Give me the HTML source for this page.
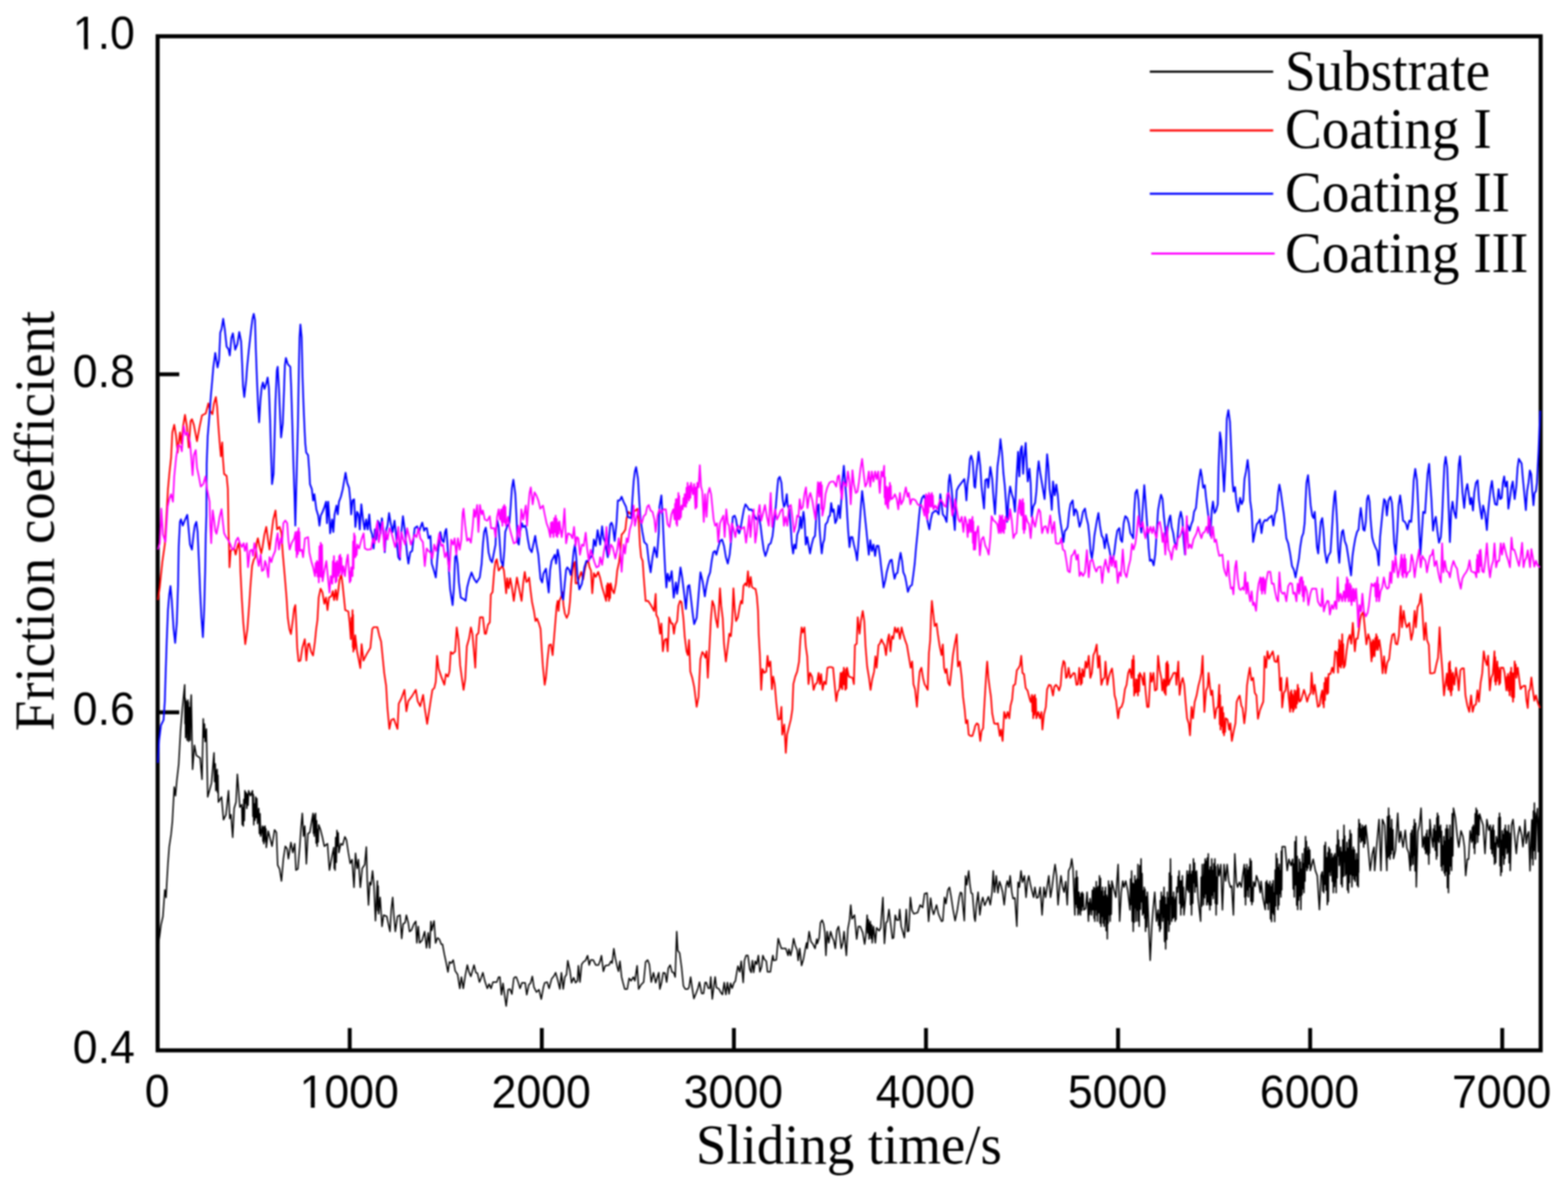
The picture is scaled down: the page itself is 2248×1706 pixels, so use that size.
<!DOCTYPE html>
<html lang="en"><head><meta charset="utf-8"><title>Friction coefficient vs sliding time</title>
<style>
html,body{margin:0;padding:0;background:#fff;}
body{width:2248px;height:1706px;overflow:hidden;}
svg{display:block;}
.tick{font-family:"Liberation Sans",Arial,sans-serif;font-size:64px;fill:#000;}
.ttl{font-family:"Liberation Serif","Times New Roman",serif;font-size:79px;fill:#000;}
.leg{font-family:"Liberation Serif","Times New Roman",serif;font-size:79px;fill:#000;}
.c{fill:none;stroke-linejoin:round;stroke-linecap:butt;}
</style></head><body>
<svg xmlns="http://www.w3.org/2000/svg" width="2248" height="1706" viewBox="0 0 2248 1706">
<rect width="2248" height="1706" fill="#fff"/>
<defs><filter id="soft" x="0" y="0" width="2248" height="1706" filterUnits="userSpaceOnUse" color-interpolation-filters="sRGB"><feGaussianBlur stdDeviation="0.80"/></filter></defs>
<g filter="url(#soft)">
<rect x="226.00" y="52.00" width="1982.80" height="1453.80" fill="none" stroke="#000" stroke-width="5.80"/>
<g stroke="#000" stroke-width="5.60"><line x1="501.39" y1="1505.80" x2="501.39" y2="1473.80"/><line x1="776.78" y1="1505.80" x2="776.78" y2="1473.80"/><line x1="1052.17" y1="1505.80" x2="1052.17" y2="1473.80"/><line x1="1327.56" y1="1505.80" x2="1327.56" y2="1473.80"/><line x1="1602.94" y1="1505.80" x2="1602.94" y2="1473.80"/><line x1="1878.33" y1="1505.80" x2="1878.33" y2="1473.80"/><line x1="2153.72" y1="1505.80" x2="2153.72" y2="1473.80"/><line x1="226.00" y1="1021.20" x2="257.00" y2="1021.20"/><line x1="226.00" y1="536.60" x2="257.00" y2="536.60"/></g>
<polyline class="c" stroke="#000000" stroke-width="2.00" points="226.3,1358.9 229.0,1340.8 230.8,1326.4 233.6,1313.7 236.3,1275.7 238.1,1286.6 239.0,1268.5 240.8,1237.8 242.6,1214.2 245.3,1196.2 247.1,1178.1 249.8,1128.2 251.6,1140.8 253.5,1119.1 256.2,1095.6 258.9,1046.8 261.6,1014.2 264.8,981.7 265.3,1037.4 265.7,1001.6 266.1,1057.6 266.5,1010.9 266.8,1051.7 267.2,1005.2 267.6,1051.4 267.9,1014.3 268.3,1061.3 268.7,1011.3 269.0,1047.0 269.4,1003.4 269.7,1046.6 270.1,1006.8 270.5,1063.1 270.8,1018.7 271.2,1055.4 271.5,1014.2 271.9,1056.1 272.3,1016.6 272.6,1061.3 273.5,1007.0 274.2,996.2 275.2,1054.0 276.1,1102.9 278.8,1068.5 281.5,1083.0 286.9,1086.6 289.6,1117.3 291.4,1030.5 292.4,1056.9 293.2,1038.0 294.1,1063.1 295.9,1045.0 297.8,1142.6 303.2,1122.7 306.8,1079.3 307.7,1120.4 308.6,1094.9 309.5,1133.6 310.1,1105.2 310.7,1131.8 311.3,1102.9 311.9,1136.1 312.5,1111.6 313.1,1149.9 317.6,1142.6 320.4,1175.2 324.0,1168.0 327.6,1133.6 329.4,1173.4 331.2,1168.0 333.6,1200.5 335.7,1158.9 338.4,1149.9 340.3,1110.1 343.9,1157.1 346.6,1153.5 347.3,1182.2 348.0,1158.0 348.8,1184.2 349.6,1146.0 350.3,1176.4 351.1,1133.6 352.0,1151.5 352.9,1136.3 353.8,1158.9 354.7,1138.4 355.6,1154.5 356.5,1133.6 359.2,1140.8 362.0,1133.6 362.6,1170.6 363.2,1138.9 363.8,1182.4 364.7,1152.4 365.6,1175.9 366.5,1142.6 367.4,1172.0 368.3,1144.7 369.2,1180.6 371.0,1158.9 371.9,1195.1 372.8,1166.4 373.7,1198.7 376.4,1184.2 377.0,1206.0 377.6,1186.7 378.2,1209.5 378.8,1185.5 379.4,1202.8 380.0,1184.2 380.7,1206.7 381.2,1188.3 381.8,1215.0 384.6,1191.5 387.3,1202.3 390.0,1213.2 393.6,1189.7 396.3,1193.3 398.1,1240.3 400.8,1245.7 403.5,1263.1 406.3,1231.2 409.0,1213.2 411.7,1216.8 413.5,1231.2 417.1,1207.7 419.8,1222.2 422.5,1209.5 424.3,1247.5 427.1,1245.7 429.8,1213.2 431.6,1186.0 433.4,1166.1 435.2,1198.7 437.0,1184.2 439.2,1238.5 441.5,1195.1 444.2,1193.3 446.9,1177.0 448.8,1166.1 449.4,1194.8 450.0,1173.6 450.6,1198.7 451.2,1168.3 451.8,1193.6 452.4,1166.1 453.2,1208.8 453.9,1176.4 454.7,1213.2 455.5,1189.3 456.2,1207.1 456.9,1182.4 459.6,1189.7 462.3,1200.5 465.0,1213.2 469.5,1209.5 472.3,1247.5 475.9,1227.6 478.6,1215.0 479.2,1244.9 479.8,1223.5 480.4,1247.5 481.3,1200.5 482.2,1236.3 483.1,1190.6 484.0,1213.0 484.9,1194.1 485.8,1222.2 488.5,1209.5 491.2,1211.4 494.5,1199.6 496.7,1204.1 499.4,1222.2 502.1,1237.8 504.8,1232.3 507.5,1272.1 509.7,1223.3 512.0,1245.0 513.9,1232.3 516.6,1272.1 519.3,1245.0 522.9,1239.6 525.2,1214.2 526.5,1261.3 528.3,1297.4 530.1,1264.9 531.9,1268.5 534.1,1248.6 536.1,1268.5 538.3,1320.0 541.0,1263.1 541.6,1305.4 542.2,1270.3 542.8,1310.1 545.0,1286.6 547.7,1328.2 550.0,1311.9 554.5,1313.7 559.1,1335.4 560.9,1304.7 563.0,1286.6 564.5,1310.1 566.8,1335.4 569.9,1313.7 573.5,1311.9 575.9,1345.4 578.0,1324.6 580.8,1322.7 582.6,1311.9 585.3,1322.7 587.1,1335.4 589.8,1333.6 593.4,1324.6 596.1,1320.9 597.6,1351.7 599.7,1328.2 601.6,1351.7 605.2,1348.1 608.8,1335.4 611.5,1358.9 613.9,1337.2 616.0,1358.9 617.8,1320.9 619.0,1333.8 622.3,1320.3 624.5,1351.9 627.2,1344.7 629.9,1346.5 632.6,1353.7 634.4,1353.7 637.1,1368.2 639.8,1380.8 642.2,1393.5 644.4,1379.0 647.1,1380.8 649.8,1376.3 652.5,1391.7 656.1,1397.1 659.2,1417.0 661.5,1400.7 664.2,1417.0 667.0,1398.9 670.0,1383.5 672.4,1393.5 675.1,1399.8 679.6,1383.5 682.3,1394.4 684.5,1395.3 687.4,1408.0 689.6,1402.5 692.3,1394.4 695.0,1406.1 698.6,1417.0 701.3,1410.7 704.0,1417.0 706.7,1408.0 712.2,1408.0 714.9,1400.7 716.7,1400.7 718.9,1426.0 721.2,1409.8 723.6,1427.8 725.7,1442.3 728.4,1418.8 731.2,1417.9 733.9,1425.1 736.6,1402.5 738.4,1400.7 740.2,1400.7 742.9,1408.0 745.6,1417.0 748.3,1408.9 752.9,1408.9 755.2,1426.0 758.3,1411.6 760.5,1409.8 763.2,1399.8 765.5,1415.2 769.1,1422.4 772.7,1418.8 776.0,1432.4 779.1,1415.2 780.9,1408.9 784.5,1408.0 787.2,1417.0 790.8,1403.4 794.4,1398.9 796.6,1394.4 799.9,1406.1 802.6,1417.9 804.9,1394.4 807.5,1417.9 809.8,1400.7 812.2,1397.1 814.0,1377.2 817.1,1391.7 819.4,1408.9 822.5,1401.6 825.2,1408.9 827.9,1406.1 829.2,1384.4 831.5,1408.0 833.9,1382.6 836.4,1379.0 839.3,1377.2 842.4,1370.0 844.7,1383.5 846.9,1376.3 850.5,1376.3 854.1,1383.5 858.1,1383.5 860.5,1377.2 862.3,1370.0 865.0,1392.6 867.7,1384.4 873.1,1383.5 875.8,1378.1 877.6,1380.8 880.0,1360.0 882.2,1373.6 884.9,1386.3 886.7,1392.6 888.8,1378.1 891.2,1400.7 893.0,1408.0 895.7,1417.9 899.3,1417.9 902.0,1402.5 904.8,1406.1 908.0,1400.7 910.2,1406.1 913.4,1384.4 915.6,1417.9 919.2,1411.6 922.8,1408.0 925.6,1379.0 928.6,1376.3 931.0,1382.6 933.7,1408.0 936.9,1394.4 940.0,1408.9 944.5,1394.4 946.0,1417.9 948.2,1409.8 950.9,1394.4 953.6,1395.3 955.8,1408.0 958.1,1388.1 960.8,1383.5 963.5,1393.5 965.9,1394.4 968.0,1400.7 970.2,1335.6 971.7,1362.7 974.4,1366.4 977.1,1386.3 979.8,1413.4 982.5,1417.9 986.1,1417.9 987.9,1415.2 990.1,1400.7 992.5,1417.0 994.8,1431.5 997.9,1424.2 1000.6,1417.0 1002.8,1408.0 1006.0,1424.2 1008.7,1424.2 1010.8,1408.6 1012.7,1408.6 1015.4,1416.8 1017.7,1416.8 1019.0,1400.5 1021.2,1432.2 1023.5,1413.2 1025.3,1400.5 1027.1,1415.9 1030.7,1417.7 1033.5,1423.1 1035.8,1425.8 1038.3,1408.6 1040.7,1425.8 1042.9,1408.6 1045.2,1424.9 1047.4,1409.5 1049.7,1416.8 1052.4,1408.6 1054.2,1406.8 1056.4,1393.3 1057.9,1385.1 1060.6,1393.3 1062.7,1377.9 1065.5,1408.6 1067.3,1377.0 1069.6,1369.8 1072.3,1369.8 1075.0,1389.7 1076.9,1394.2 1078.7,1377.0 1080.5,1394.2 1082.8,1377.9 1085.0,1382.4 1087.3,1369.8 1089.5,1393.3 1091.9,1386.0 1093.7,1369.8 1095.8,1375.2 1098.6,1377.9 1100.4,1393.3 1104.5,1393.3 1106.7,1377.0 1108.0,1369.8 1109.4,1377.0 1113.0,1376.1 1114.8,1355.3 1115.7,1345.4 1118.4,1354.4 1120.3,1359.8 1126.6,1359.8 1129.8,1369.8 1131.1,1360.7 1133.5,1369.8 1135.6,1360.7 1137.8,1345.4 1140.1,1355.3 1142.9,1362.5 1144.3,1377.0 1146.5,1359.8 1149.2,1384.2 1151.9,1375.2 1154.6,1359.8 1156.4,1351.7 1157.3,1359.8 1160.0,1335.4 1162.7,1349.9 1165.5,1353.5 1168.5,1359.8 1170.9,1346.3 1171.8,1352.6 1174.5,1344.4 1176.3,1322.7 1178.7,1319.1 1180.8,1324.6 1182.6,1337.2 1184.1,1369.8 1185.9,1335.4 1188.1,1351.7 1190.8,1335.4 1193.5,1344.4 1195.3,1348.1 1197.5,1359.8 1199.8,1333.6 1202.2,1328.2 1204.3,1344.4 1206.1,1359.8 1208.3,1351.7 1210.1,1335.4 1213.4,1369.8 1215.6,1331.8 1217.9,1319.1 1219.7,1297.4 1221.5,1317.3 1225.1,1311.9 1228.2,1346.3 1230.6,1328.2 1233.3,1328.2 1236.9,1337.2 1239.6,1353.5 1241.4,1340.8 1243.2,1311.9 1244.1,1337.4 1245.0,1318.3 1245.9,1346.3 1246.5,1324.1 1247.1,1340.7 1247.7,1320.9 1248.7,1345.3 1249.6,1325.9 1250.5,1351.7 1252.3,1328.2 1255.0,1351.7 1256.8,1330.0 1260.4,1334.5 1262.6,1330.0 1264.4,1304.7 1265.8,1286.6 1268.0,1352.6 1270.3,1322.7 1272.2,1320.9 1274.5,1303.8 1276.7,1322.7 1279.4,1345.4 1281.2,1344.4 1283.5,1311.9 1285.7,1319.1 1288.4,1319.1 1289.9,1303.8 1292.0,1328.2 1294.4,1336.3 1296.6,1344.4 1299.3,1303.8 1301.1,1335.4 1302.9,1334.5 1305.2,1286.6 1307.4,1304.7 1310.1,1310.1 1315.6,1308.3 1319.2,1297.4 1322.8,1301.0 1325.5,1281.2 1329.1,1280.3 1331.3,1320.9 1334.2,1287.5 1336.3,1302.9 1338.5,1311.0 1342.7,1297.4 1345.4,1310.1 1349.9,1320.9 1351.7,1320.0 1354.1,1286.6 1356.2,1295.6 1359.0,1275.7 1361.3,1272.1 1363.5,1284.8 1366.2,1302.9 1369.3,1320.0 1372.5,1304.7 1375.2,1286.6 1377.0,1279.3 1378.8,1280.3 1382.5,1320.0 1384.3,1255.8 1386.1,1268.5 1388.8,1248.6 1390.6,1268.5 1392.4,1280.3 1394.2,1281.2 1396.9,1315.5 1398.1,1320.7 1399.9,1297.2 1402.3,1279.1 1404.8,1311.7 1407.2,1293.6 1409.0,1286.4 1411.7,1298.1 1414.4,1291.8 1417.1,1285.5 1419.8,1297.2 1422.2,1279.1 1424.0,1248.4 1425.8,1279.1 1428.3,1255.6 1430.7,1280.0 1433.0,1263.8 1435.2,1270.1 1437.4,1279.1 1439.7,1297.2 1442.4,1270.1 1444.2,1262.9 1446.4,1271.9 1448.2,1255.6 1450.6,1279.1 1452.4,1288.2 1455.1,1287.3 1457.8,1328.0 1459.6,1264.7 1461.4,1271.9 1463.8,1248.4 1465.9,1264.7 1468.7,1255.6 1471.0,1286.4 1473.2,1262.9 1475.0,1255.6 1477.7,1270.1 1479.5,1277.3 1481.9,1286.4 1483.7,1271.9 1486.2,1287.3 1488.6,1286.4 1491.3,1271.9 1494.0,1311.7 1496.7,1271.9 1499.0,1286.4 1501.2,1271.9 1503.6,1255.6 1506.1,1286.4 1508.4,1271.9 1510.3,1255.6 1512.6,1239.3 1514.8,1255.6 1516.9,1297.2 1519.3,1270.1 1521.1,1255.6 1523.5,1271.9 1525.6,1279.1 1527.8,1263.8 1530.1,1297.2 1532.0,1248.4 1534.7,1243.0 1536.5,1231.2 1538.3,1244.8 1541.0,1311.7 1541.8,1259.3 1542.6,1296.2 1543.3,1248.4 1544.1,1300.9 1544.8,1257.8 1545.5,1311.7 1546.0,1284.9 1546.5,1309.8 1547.0,1279.1 1547.7,1302.3 1548.4,1286.5 1549.1,1311.7 1549.9,1280.9 1550.7,1305.2 1551.5,1279.1 1552.2,1299.3 1552.9,1281.5 1553.7,1304.4 1556.4,1302.6 1558.5,1279.1 1560.5,1320.7 1561.3,1293.9 1562.0,1311.1 1562.7,1288.2 1565.0,1311.7 1566.1,1276.2 1567.1,1304.3 1568.1,1271.9 1568.6,1316.6 1569.1,1277.2 1569.6,1320.7 1570.3,1273.5 1571.0,1304.3 1571.7,1263.8 1572.4,1311.9 1572.9,1273.1 1573.5,1320.7 1574.5,1270.8 1575.4,1308.5 1576.3,1255.6 1577.1,1323.6 1577.8,1259.3 1578.6,1328.0 1579.3,1277.7 1580.1,1313.7 1580.8,1271.9 1581.6,1323.6 1582.4,1285.1 1583.1,1328.0 1583.7,1277.4 1584.3,1317.9 1584.9,1271.9 1585.8,1334.2 1586.6,1283.5 1587.5,1346.0 1588.1,1286.6 1588.7,1323.8 1589.3,1262.9 1590.1,1311.6 1590.9,1268.6 1591.6,1320.7 1592.4,1272.9 1593.2,1310.8 1594.0,1262.9 1596.1,1271.9 1599.8,1286.4 1603.0,1239.3 1605.2,1320.7 1607.5,1279.1 1609.7,1262.9 1611.5,1271.9 1613.9,1262.9 1616.9,1277.3 1620.0,1304.4 1620.8,1260.2 1621.6,1296.8 1622.4,1248.4 1623.2,1320.8 1623.9,1266.3 1624.7,1335.2 1625.5,1267.3 1626.2,1322.1 1626.9,1255.6 1627.6,1301.6 1628.3,1262.6 1629.1,1320.7 1629.9,1260.2 1630.6,1304.8 1631.4,1239.3 1632.0,1320.4 1632.6,1261.5 1633.2,1328.0 1634.1,1241.0 1635.0,1303.4 1635.9,1231.2 1636.7,1292.7 1637.4,1252.2 1638.1,1311.7 1638.9,1277.1 1639.7,1308.9 1640.5,1271.9 1641.1,1316.5 1641.7,1275.3 1642.3,1335.2 1643.2,1285.4 1644.1,1328.9 1645.0,1279.1 1649.0,1376.8 1651.3,1328.0 1653.1,1304.4 1655.5,1279.1 1658.0,1320.7 1660.3,1304.4 1661.1,1326.8 1661.9,1310.8 1662.7,1335.2 1663.4,1291.1 1664.1,1331.4 1664.9,1279.1 1665.5,1309.9 1666.1,1286.7 1666.7,1320.7 1667.4,1284.5 1668.1,1315.0 1668.8,1271.9 1669.6,1349.7 1670.4,1286.4 1671.2,1360.5 1672.0,1297.0 1672.8,1346.8 1673.5,1279.1 1674.3,1318.7 1675.0,1287.4 1675.7,1335.2 1676.5,1251.5 1677.3,1325.1 1678.1,1231.2 1678.7,1296.3 1679.3,1255.8 1679.9,1320.7 1680.8,1286.3 1681.7,1316.5 1682.6,1279.1 1683.3,1314.5 1684.0,1289.7 1684.8,1320.7 1685.5,1286.3 1686.2,1318.1 1686.9,1271.9 1688.4,1279.1 1689.1,1256.5 1689.8,1272.1 1690.5,1248.4 1691.3,1295.2 1692.1,1262.7 1692.9,1311.7 1693.7,1262.9 1694.5,1301.2 1695.2,1255.6 1696.0,1298.0 1696.7,1272.1 1697.4,1311.7 1699.6,1288.2 1701.9,1248.4 1702.7,1276.0 1703.5,1253.9 1704.3,1279.1 1704.9,1249.1 1705.5,1270.7 1706.1,1239.3 1706.8,1297.1 1707.5,1253.4 1708.3,1311.7 1709.2,1248.9 1710.1,1295.0 1711.0,1231.2 1711.8,1265.5 1712.6,1237.2 1713.3,1279.1 1714.1,1250.2 1714.8,1270.9 1715.5,1248.4 1717.7,1288.2 1721.3,1320.7 1722.1,1257.5 1722.9,1299.2 1723.6,1239.3 1724.2,1284.3 1724.8,1255.8 1725.4,1297.2 1726.2,1238.7 1727.0,1287.0 1727.8,1231.2 1728.5,1281.6 1729.2,1234.7 1730.0,1297.2 1730.8,1229.9 1731.5,1292.9 1732.3,1224.0 1733.1,1296.8 1733.8,1247.4 1734.5,1304.4 1735.4,1242.7 1736.3,1297.6 1737.2,1231.2 1737.9,1283.4 1738.7,1247.9 1739.4,1288.2 1740.2,1238.3 1740.9,1278.1 1741.7,1231.2 1742.3,1295.1 1742.9,1242.2 1743.5,1311.7 1744.3,1257.3 1745.1,1295.9 1745.9,1239.3 1748.0,1255.6 1750.2,1239.3 1752.6,1304.4 1754.9,1239.3 1757.1,1262.9 1759.3,1239.3 1761.6,1262.9 1764.0,1271.9 1765.8,1270.1 1768.3,1311.7 1770.3,1224.0 1772.5,1264.7 1774.3,1271.9 1777.0,1264.7 1779.7,1271.9 1781.5,1255.6 1783.9,1239.3 1784.5,1286.1 1785.1,1245.1 1785.7,1297.2 1786.3,1255.2 1786.9,1284.7 1787.5,1239.3 1788.3,1275.5 1789.1,1247.5 1789.9,1286.0 1790.7,1242.9 1791.5,1271.3 1792.3,1230.9 1793.2,1291.9 1794.0,1234.5 1794.8,1296.9 1795.6,1272.5 1796.4,1292.6 1797.2,1264.3 1799.5,1270.7 1801.3,1255.3 1804.4,1264.3 1806.8,1279.7 1808.0,1263.4 1810.7,1287.8 1814.0,1304.1 1814.7,1264.7 1815.5,1293.9 1816.2,1262.5 1816.9,1295.2 1817.6,1266.8 1818.3,1304.1 1819.1,1268.8 1819.9,1293.6 1820.7,1263.4 1821.5,1317.4 1822.3,1271.3 1823.0,1321.3 1823.8,1267.2 1824.5,1308.3 1825.2,1262.5 1825.9,1310.8 1826.7,1279.9 1827.4,1321.3 1828.2,1247.2 1829.0,1298.7 1829.7,1223.7 1830.5,1281.7 1831.3,1231.1 1832.1,1304.1 1832.8,1243.7 1833.5,1297.4 1834.2,1239.0 1835.0,1280.9 1835.7,1248.4 1836.4,1286.0 1837.0,1220.2 1837.6,1275.8 1838.2,1213.7 1842.4,1213.7 1845.5,1248.1 1847.8,1231.8 1850.9,1240.8 1853.2,1231.8 1854.0,1274.4 1854.8,1238.5 1855.6,1286.0 1856.5,1206.5 1857.4,1268.6 1858.3,1199.2 1859.0,1297.7 1859.8,1227.7 1860.5,1304.1 1861.3,1251.0 1862.0,1290.5 1862.8,1231.8 1863.6,1284.3 1864.3,1236.1 1865.0,1304.1 1865.8,1246.3 1866.6,1282.7 1867.3,1223.7 1868.1,1273.9 1868.8,1238.1 1869.5,1279.7 1870.2,1216.5 1871.0,1263.3 1871.7,1199.2 1872.4,1243.0 1873.0,1206.3 1873.7,1248.1 1874.4,1219.9 1875.1,1244.5 1875.8,1214.6 1876.8,1238.7 1877.7,1218.5 1878.6,1248.1 1882.7,1231.8 1885.8,1248.1 1888.5,1255.3 1891.6,1304.1 1893.9,1255.3 1895.7,1249.9 1896.5,1277.4 1897.2,1255.6 1897.9,1279.7 1898.7,1212.3 1899.5,1267.8 1900.3,1207.4 1901.2,1276.2 1902.1,1229.5 1903.0,1296.9 1903.7,1222.3 1904.4,1292.5 1905.1,1214.6 1905.9,1249.9 1906.7,1217.6 1907.5,1255.3 1908.1,1232.2 1908.7,1246.7 1909.3,1223.7 1910.1,1263.5 1910.9,1229.8 1911.6,1279.7 1912.4,1226.6 1913.1,1271.0 1913.8,1223.7 1914.4,1264.5 1915.0,1228.8 1915.6,1279.7 1916.4,1211.6 1917.1,1258.6 1917.8,1190.2 1918.6,1226.9 1919.4,1204.3 1920.1,1240.8 1920.8,1220.0 1921.4,1233.2 1922.0,1214.6 1922.8,1267.4 1923.5,1221.6 1924.3,1271.6 1925.2,1203.9 1926.0,1256.6 1926.8,1183.0 1927.5,1235.4 1928.0,1198.4 1928.6,1255.3 1929.4,1221.3 1930.2,1252.8 1931.0,1207.4 1931.7,1275.8 1932.4,1216.3 1933.2,1279.7 1934.0,1203.7 1934.7,1265.2 1935.5,1190.2 1936.4,1253.5 1937.3,1195.5 1938.2,1271.6 1939.0,1218.7 1939.7,1254.9 1940.4,1214.6 1941.2,1260.6 1942.0,1218.4 1942.7,1263.4 1943.5,1233.4 1944.2,1255.3 1944.9,1223.7 1945.7,1268.9 1946.5,1232.6 1947.3,1271.6 1947.6,1187.2 1947.9,1250.7 1948.2,1174.8 1949.1,1199.7 1950.0,1180.9 1950.9,1207.4 1951.7,1188.4 1952.5,1204.7 1953.2,1183.0 1953.9,1205.8 1954.4,1186.8 1955.0,1214.6 1956.1,1184.7 1957.1,1209.5 1958.1,1183.0 1960.8,1207.4 1964.4,1248.1 1967.5,1223.7 1969.9,1214.6 1970.8,1248.1 1973.5,1214.6 1977.1,1174.8 1979.8,1248.1 1982.0,1174.8 1985.2,1183.0 1988.3,1248.1 1989.2,1170.8 1990.0,1229.2 1990.8,1158.6 1991.5,1227.0 1992.2,1169.4 1992.8,1231.8 1993.6,1187.5 1994.4,1224.3 1995.2,1174.8 1996.1,1218.5 1997.0,1189.5 1997.9,1230.9 2000.6,1219.1 2003.9,1165.8 2006.0,1207.4 2008.2,1192.0 2011.5,1214.6 2014.7,1190.2 2016.9,1215.5 2019.6,1222.7 2021.8,1248.1 2022.6,1194.6 2023.3,1240.8 2024.1,1190.2 2024.7,1228.5 2025.3,1199.3 2025.9,1239.0 2026.5,1184.8 2027.1,1226.2 2027.7,1174.8 2028.7,1248.5 2029.6,1180.2 2030.5,1271.6 2032.8,1192.0 2035.0,1183.0 2037.3,1158.6 2039.5,1214.6 2041.8,1199.2 2042.6,1217.8 2043.3,1200.9 2044.0,1223.7 2044.6,1195.6 2045.2,1221.4 2045.8,1190.2 2046.7,1225.3 2047.6,1200.4 2048.5,1239.0 2049.0,1189.4 2049.5,1223.1 2050.0,1174.8 2052.2,1199.2 2054.5,1214.6 2055.2,1188.6 2056.0,1206.2 2056.7,1183.0 2057.6,1219.0 2058.5,1191.5 2059.4,1231.8 2059.9,1172.5 2060.4,1227.2 2060.8,1165.8 2061.6,1204.8 2062.3,1169.7 2063.0,1207.4 2063.8,1185.6 2064.6,1200.1 2065.4,1183.0 2066.1,1241.9 2066.8,1191.4 2067.5,1248.1 2068.3,1212.6 2069.1,1239.3 2069.9,1199.2 2070.6,1251.4 2071.3,1206.2 2072.0,1255.3 2072.8,1188.5 2073.6,1249.1 2074.4,1183.0 2075.1,1272.7 2075.8,1188.6 2076.6,1279.7 2077.3,1204.3 2078.0,1253.0 2078.7,1183.0 2079.5,1241.6 2080.3,1201.0 2081.1,1248.1 2082.0,1166.6 2082.9,1226.9 2083.8,1158.6 2086.5,1172.1 2089.2,1199.2 2091.4,1214.6 2094.6,1191.1 2097.4,1199.2 2099.5,1213.7 2101.3,1255.3 2103.7,1231.8 2105.5,1231.8 2107.7,1191.1 2110.0,1207.4 2110.8,1186.1 2111.6,1205.1 2112.4,1183.0 2113.0,1215.8 2113.6,1186.6 2114.2,1223.7 2114.9,1166.4 2115.6,1209.5 2116.3,1158.6 2117.1,1195.8 2117.8,1161.8 2118.5,1207.4 2119.4,1169.1 2120.3,1197.1 2121.2,1166.7 2123.6,1174.8 2126.3,1183.0 2129.0,1223.7 2131.7,1174.8 2134.4,1190.2 2136.6,1183.0 2137.4,1217.0 2138.2,1190.5 2139.0,1223.7 2139.6,1186.5 2140.2,1217.0 2140.8,1183.0 2141.4,1227.8 2142.0,1190.5 2142.6,1239.0 2143.5,1208.6 2144.4,1236.8 2145.3,1199.2 2148.0,1214.6 2148.6,1172.5 2149.2,1207.1 2149.8,1165.8 2150.4,1241.2 2151.0,1171.7 2151.6,1255.3 2152.3,1204.7 2153.1,1249.9 2153.8,1191.1 2154.6,1226.1 2155.4,1196.6 2156.1,1239.0 2156.9,1188.2 2157.6,1230.6 2158.3,1183.0 2159.1,1215.5 2159.9,1191.2 2160.7,1223.7 2161.4,1192.8 2162.1,1221.5 2162.8,1183.0 2163.6,1237.1 2164.4,1194.4 2165.2,1248.1 2167.0,1183.0 2169.2,1174.8 2171.5,1199.2 2173.9,1223.7 2176.0,1199.2 2178.7,1184.8 2181.6,1197.2 2183.4,1213.9 2185.2,1197.2 2186.4,1175.2 2188.1,1209.1 2189.9,1197.2 2191.7,1192.4 2193.5,1248.4 2194.7,1209.1 2196.2,1175.2 2196.7,1231.1 2197.2,1185.5 2197.7,1240.1 2198.4,1162.7 2199.1,1219.4 2199.8,1151.3 2200.3,1212.4 2200.8,1165.3 2201.3,1231.8 2202.7,1172.2 2204.2,1159.1 2205.4,1221.0 2206.6,1173.4 2207.8,1159.1"/>
<polyline class="c" stroke="#ff0000" stroke-width="2.40" points="226.3,860.2 229.0,842.1 232.7,805.9 236.3,780.6 238.1,748.1 240.8,701.2 243.1,675.9 245.3,656.0 247.1,619.9 249.8,609.0 252.5,625.3 254.7,648.8 258.0,619.9 260.1,636.1 262.5,610.8 265.2,594.6 267.9,610.8 270.6,641.6 273.3,603.6 275.2,600.9 277.9,609.0 282.4,632.5 286.0,612.6 289.6,595.5 295.0,592.7 298.7,578.3 301.4,589.1 304.6,593.7 306.8,578.3 309.5,569.2 311.3,583.7 313.1,610.8 314.9,634.3 316.7,654.2 318.6,634.3 319.5,656.0 321.3,679.5 324.9,682.3 326.7,701.2 327.6,757.1 328.5,789.7 329.0,813.2 330.7,789.7 333.0,787.9 335.7,786.1 337.9,795.1 340.3,784.2 342.1,778.8 343.9,789.7 344.8,820.4 346.6,856.6 348.8,892.7 351.6,923.5 354.7,901.8 357.4,865.6 359.2,838.5 361.4,811.4 363.8,802.3 366.1,798.7 367.9,778.8 369.7,771.6 371.9,782.4 374.6,793.3 376.4,784.2 379.1,766.2 381.8,755.3 384.2,773.4 386.4,787.9 389.1,766.2 391.8,744.5 395.0,731.8 397.2,758.9 400.8,755.3 403.5,764.4 405.4,793.3 408.1,824.0 410.8,856.6 412.6,885.5 414.9,901.8 417.1,909.0 419.8,889.1 421.6,872.9 423.4,867.4 424.7,892.7 426.1,928.9 428.0,947.9 430.7,947.0 433.4,928.9 437.0,916.3 439.2,947.0 441.5,923.5 443.3,922.6 446.0,934.3 448.8,939.8 451.5,919.9 453.3,901.8 455.1,889.1 456.9,856.6 459.6,843.9 462.3,849.3 465.0,865.6 467.4,856.6 469.5,874.7 471.7,856.6 475.0,854.8 477.1,847.5 479.0,860.2 481.3,845.7 483.1,860.2 484.9,847.5 486.7,831.3 489.4,824.0 491.2,838.5 493.1,856.6 494.9,874.7 499.4,876.5 501.2,892.7 503.0,916.3 503.8,885.7 504.6,905.4 505.4,874.7 505.8,927.8 506.2,881.5 506.6,934.3 507.5,915.0 508.4,930.5 509.3,910.8 512.0,934.3 513.9,943.4 516.6,957.8 518.4,923.5 521.1,947.0 525.6,938.0 531.0,928.9 533.7,901.8 535.6,899.1 541.0,899.1 543.7,910.8 546.4,919.9 548.2,938.0 550.9,965.1 553.6,983.2 555.4,1014.2 558.2,1045.0 560.9,1032.3 564.5,1030.5 569.9,1045.0 571.7,1008.8 575.3,1001.6 579.9,988.9 582.6,1019.7 585.3,1005.2 590.7,998.0 596.1,988.9 598.8,1005.2 602.5,1012.4 606.6,996.2 608.8,1014.2 612.4,1037.8 616.0,1014.2 617.2,1006.1 619.9,989.0 622.7,986.3 624.8,977.2 626.6,940.1 629.0,959.1 632.6,970.0 637.1,981.7 639.3,966.4 642.2,970.0 644.4,962.7 646.2,934.7 648.9,937.4 652.5,933.8 654.8,899.5 657.4,917.5 659.7,953.7 662.4,973.6 664.6,989.0 667.0,973.6 669.3,926.6 672.4,915.7 675.1,899.5 677.3,908.5 679.6,935.6 681.4,957.3 683.2,910.3 685.9,907.6 688.1,885.0 692.3,885.0 695.0,908.5 696.8,908.5 699.5,895.8 702.2,892.2 703.7,852.4 706.2,848.8 708.6,818.1 710.4,805.4 712.2,801.8 714.9,818.1 717.6,814.5 720.3,810.8 722.5,818.1 724.3,836.2 725.7,850.6 727.2,828.9 729.3,843.4 731.5,828.9 733.9,841.6 736.6,861.5 738.8,845.2 741.1,828.0 743.8,841.6 747.8,861.5 750.1,836.2 752.3,819.9 754.7,834.4 756.8,832.5 758.6,828.0 760.5,845.2 762.8,863.3 765.5,875.9 767.7,890.4 770.0,886.8 772.7,894.0 774.9,901.3 776.4,926.6 778.2,953.7 780.9,981.7 782.7,971.8 785.0,944.7 787.2,924.8 789.9,923.9 792.3,939.2 794.1,917.5 796.3,890.4 798.1,868.7 799.5,861.5 800.8,875.9 802.0,861.5 804.4,856.1 806.2,848.8 808.0,868.7 809.8,879.6 812.5,885.9 815.2,879.6 817.1,863.3 818.9,836.2 820.7,818.1 822.5,809.0 824.3,805.4 825.2,836.2 827.9,836.2 830.6,827.1 833.3,819.9 836.0,830.7 838.2,818.1 840.6,807.2 843.3,803.6 845.1,812.7 847.3,818.1 849.1,850.6 851.4,821.7 854.1,827.1 857.7,819.9 860.5,828.9 863.2,841.6 865.9,850.6 869.0,861.5 869.8,839.6 870.5,855.2 871.3,836.2 871.9,854.5 872.5,837.6 873.1,861.5 873.9,838.5 874.7,857.5 875.5,836.2 877.6,845.2 880.3,850.6 883.1,836.2 884.9,818.1 887.6,805.4 889.4,789.9 891.2,766.4 893.9,763.7 896.6,759.1 898.4,742.9 901.1,733.8 904.8,737.4 908.4,733.8 911.1,732.0 913.8,729.3 915.6,744.7 916.5,762.7 917.4,780.8 919.2,798.9 921.4,804.3 922.8,826.0 925.6,861.5 929.2,861.5 932.8,866.9 937.7,875.9 940.0,851.5 940.9,881.4 943.6,886.8 946.3,908.5 948.2,894.0 950.3,933.8 952.7,917.5 955.4,915.7 957.2,933.8 959.4,885.0 962.6,894.0 964.4,894.0 966.2,908.5 968.0,895.8 970.8,890.4 972.6,868.7 974.9,861.5 977.1,863.3 979.8,886.8 981.6,912.1 984.3,933.8 986.1,939.2 987.9,917.5 989.7,962.7 992.5,971.8 995.2,984.4 997.0,998.9 998.8,1013.4 1001.5,998.9 1002.8,971.8 1004.2,944.7 1006.9,934.7 1009.0,937.4 1011.2,942.9 1013.0,933.8 1014.8,971.8 1017.2,926.6 1019.0,890.4 1021.3,861.5 1023.9,868.7 1026.2,886.8 1028.9,899.5 1030.7,872.3 1032.2,843.4 1034.0,868.7 1036.2,886.8 1038.0,923.0 1040.7,948.3 1043.4,926.6 1045.6,908.5 1047.9,912.1 1049.7,890.4 1051.5,843.4 1053.3,872.3 1055.2,890.4 1057.9,885.0 1060.6,868.7 1062.4,861.5 1064.2,865.1 1066.0,839.8 1068.7,836.2 1070.5,839.8 1072.3,819.0 1074.1,841.6 1076.3,827.1 1078.1,841.6 1080.5,843.4 1083.2,844.3 1085.0,854.2 1086.8,875.9 1087.7,908.5 1089.5,941.0 1091.3,989.0 1093.1,959.1 1095.8,964.6 1098.6,962.7 1100.4,940.1 1102.2,955.5 1104.5,948.3 1106.7,988.1 1108.5,970.0 1110.7,980.8 1113.0,1008.0 1115.7,1031.5 1118.4,1030.6 1120.3,1013.4 1121.5,1053.2 1124.4,1038.7 1126.6,1079.4 1128.4,1053.2 1131.1,1042.3 1133.8,1031.5 1136.0,1017.0 1137.4,980.8 1140.1,970.0 1142.9,962.7 1145.6,948.3 1147.4,917.5 1149.2,899.5 1151.0,906.7 1153.3,899.5 1155.2,926.6 1157.3,941.0 1159.1,980.8 1161.3,964.6 1164.2,970.0 1166.4,989.0 1169.1,980.8 1171.4,979.0 1173.6,964.6 1175.4,980.8 1177.2,966.4 1179.4,989.0 1181.7,977.2 1184.1,980.8 1186.3,957.3 1189.0,956.4 1191.7,956.4 1194.4,957.3 1196.2,977.2 1198.9,1005.2 1201.1,991.7 1203.4,988.1 1205.2,964.6 1206.0,985.5 1206.8,965.7 1207.6,988.1 1208.3,963.1 1209.0,981.0 1209.8,957.3 1210.5,981.3 1211.2,966.4 1211.9,989.0 1212.7,959.7 1213.5,987.1 1214.3,957.3 1217.0,970.0 1219.7,970.9 1222.4,971.8 1224.2,980.8 1225.7,924.8 1228.2,923.0 1229.7,885.0 1232.4,908.5 1234.2,890.4 1236.9,875.9 1239.1,890.4 1240.9,926.6 1243.2,955.5 1245.9,971.8 1248.1,989.0 1250.5,973.6 1253.2,962.7 1255.0,941.0 1256.8,957.3 1259.5,924.8 1261.3,923.0 1263.7,916.6 1265.8,921.2 1268.0,924.8 1270.3,939.2 1272.7,917.5 1274.5,909.4 1276.7,933.8 1278.5,912.1 1280.7,915.7 1283.0,899.5 1285.4,906.7 1287.5,900.4 1290.2,915.7 1292.6,899.5 1294.8,908.5 1297.5,917.5 1300.2,924.8 1302.9,941.0 1305.6,957.3 1307.8,948.3 1309.6,980.8 1311.9,988.1 1314.6,1013.4 1316.8,980.8 1318.6,962.7 1321.0,957.3 1323.3,971.8 1325.5,980.8 1327.7,984.4 1330.0,989.0 1331.8,935.6 1333.6,917.5 1334.9,881.4 1336.0,861.5 1338.2,881.4 1340.0,897.6 1342.7,894.0 1344.5,908.5 1347.2,926.6 1349.9,939.2 1351.7,923.9 1353.5,957.3 1355.3,964.6 1357.1,959.1 1359.5,979.0 1361.7,982.6 1364.4,957.3 1366.2,939.2 1368.9,923.0 1371.6,909.4 1373.4,955.5 1376.1,948.3 1378.8,971.8 1380.7,998.9 1383.0,1017.0 1384.8,1036.9 1387.0,1032.4 1388.8,1053.2 1391.5,1055.0 1394.2,1055.0 1396.9,1045.9 1398.1,1040.6 1400.5,1037.0 1402.7,1038.8 1405.4,1062.3 1407.2,1047.8 1409.5,1044.2 1410.8,1018.9 1412.6,988.2 1414.4,959.2 1415.3,948.4 1417.1,971.9 1418.9,986.4 1420.7,999.0 1422.5,1022.5 1425.3,1037.0 1428.0,1037.9 1430.7,1037.0 1433.4,1055.1 1435.2,1046.0 1437.4,1062.3 1439.7,1020.7 1442.4,1029.8 1444.6,1020.7 1447.0,1029.8 1448.8,1011.7 1451.1,1002.6 1452.9,982.7 1455.5,980.9 1457.8,961.0 1460.5,957.4 1462.3,953.8 1464.1,940.3 1465.9,964.7 1468.1,966.5 1470.5,986.4 1473.2,990.0 1475.9,1000.8 1477.7,1006.3 1479.5,996.3 1480.1,1019.9 1480.7,1002.5 1481.3,1029.8 1482.1,998.5 1482.9,1024.9 1483.7,996.3 1484.4,1021.5 1485.1,1001.5 1485.8,1029.8 1488.6,1020.7 1490.9,1029.8 1493.1,1020.7 1494.5,1046.0 1496.7,1024.3 1499.4,1013.5 1501.2,988.2 1503.9,981.8 1506.6,982.7 1509.7,997.2 1511.5,984.6 1513.9,981.8 1516.2,984.6 1518.4,990.0 1520.6,982.7 1522.4,959.2 1524.7,947.5 1526.5,950.2 1528.3,971.9 1530.1,970.1 1532.0,957.4 1534.3,971.9 1536.8,968.3 1539.2,964.7 1541.0,965.6 1543.3,981.8 1545.5,980.9 1547.3,957.4 1549.5,981.8 1550.3,965.9 1551.1,979.5 1551.8,959.2 1554.2,970.1 1556.4,948.4 1558.5,957.4 1560.9,940.3 1563.2,971.9 1565.4,964.7 1567.6,939.3 1569.9,933.9 1572.3,924.0 1574.4,957.4 1576.3,940.3 1579.0,981.8 1581.3,973.7 1583.5,971.9 1584.9,948.4 1587.5,981.8 1589.8,970.1 1592.2,962.9 1594.3,958.3 1596.1,973.7 1598.0,997.2 1600.1,1004.4 1603.0,1029.8 1605.2,1015.3 1607.9,1013.5 1610.3,1006.3 1612.8,988.2 1615.1,981.8 1617.5,964.7 1619.7,959.2 1622.4,971.9 1623.3,946.3 1624.2,966.4 1625.1,940.3 1625.4,983.4 1625.7,946.4 1626.0,997.2 1626.9,979.5 1627.8,993.3 1628.7,973.7 1629.6,991.9 1630.5,975.0 1631.4,997.2 1632.3,967.6 1633.2,991.1 1634.1,964.7 1636.8,970.1 1639.2,981.8 1640.5,964.7 1642.3,990.0 1644.6,1013.5 1646.8,1013.5 1649.5,964.7 1651.3,977.3 1653.7,964.7 1655.8,990.0 1658.5,988.2 1660.3,940.3 1662.7,961.0 1664.9,971.9 1666.3,990.0 1668.5,973.7 1669.4,993.2 1670.3,975.9 1671.2,996.3 1672.0,950.9 1672.8,983.6 1673.5,948.4 1674.2,972.8 1674.8,952.8 1675.4,981.8 1677.5,975.5 1680.2,970.1 1682.6,964.7 1685.7,964.7 1686.6,981.8 1689.3,948.4 1691.1,996.3 1693.4,979.1 1695.6,971.9 1697.8,981.8 1699.6,1004.4 1701.9,1029.8 1704.3,1037.0 1706.1,1054.2 1708.3,1013.5 1710.4,1029.8 1712.8,1006.3 1715.5,997.2 1718.2,982.7 1720.6,973.7 1722.4,964.7 1724.2,940.3 1725.4,982.7 1726.7,1020.7 1729.1,990.0 1731.4,984.6 1732.7,964.7 1734.5,982.7 1736.3,996.3 1738.1,990.0 1739.9,1011.7 1741.7,1029.8 1744.1,1015.3 1746.2,1013.5 1748.0,981.8 1748.7,1038.4 1749.3,996.5 1749.9,1046.0 1750.8,1015.6 1751.7,1041.0 1752.6,1013.5 1753.4,1050.4 1754.1,1022.3 1754.9,1054.2 1755.7,1035.2 1756.4,1049.4 1757.1,1029.8 1759.8,1031.6 1762.2,1046.0 1764.0,1037.0 1766.1,1062.3 1768.8,1047.8 1771.2,1037.0 1773.0,1006.3 1775.2,1000.8 1777.3,997.2 1779.7,1011.7 1781.5,1015.3 1783.9,1037.0 1786.0,1018.9 1787.8,982.7 1789.9,968.1 1791.8,957.2 1794.1,975.3 1796.6,971.7 1799.0,993.4 1801.3,997.0 1803.5,1030.5 1806.2,1018.7 1808.9,1011.5 1811.1,1006.0 1812.2,978.9 1812.9,940.9 1815.3,957.2 1817.1,933.7 1819.4,944.6 1822.0,939.1 1824.8,933.7 1827.4,948.2 1830.3,949.1 1832.4,940.0 1833.9,960.8 1835.2,989.8 1837.0,971.7 1838.2,1014.2 1840.6,993.4 1842.9,989.8 1845.1,971.7 1847.3,997.0 1849.6,1020.5 1850.2,992.2 1850.8,1012.5 1851.4,989.8 1852.2,1015.2 1853.0,995.8 1853.8,1020.5 1854.5,998.7 1855.2,1017.1 1855.9,989.8 1856.7,1012.5 1857.4,993.7 1858.1,1015.1 1858.9,990.2 1859.7,1008.8 1860.5,981.6 1861.3,1003.0 1862.0,987.0 1862.8,1006.0 1865.0,1004.2 1867.2,997.0 1869.5,988.9 1871.9,997.0 1874.0,1006.0 1876.7,997.0 1879.1,993.4 1880.4,964.4 1882.7,995.2 1884.9,981.6 1887.1,997.0 1889.4,1013.3 1891.8,1011.5 1893.9,997.0 1895.7,989.8 1896.5,1009.1 1897.2,993.7 1897.9,1014.2 1898.7,979.0 1899.5,1003.8 1900.3,971.7 1901.1,991.2 1901.8,975.2 1902.6,995.2 1903.3,971.4 1904.1,993.5 1904.8,966.3 1907.5,966.3 1909.8,957.2 1912.0,964.4 1914.2,933.7 1916.5,935.5 1918.3,964.4 1919.0,931.0 1919.5,953.8 1920.1,917.4 1920.9,955.1 1921.7,925.3 1922.5,957.2 1923.1,919.0 1923.7,952.8 1924.3,909.3 1925.0,948.9 1925.8,923.5 1926.5,957.2 1928.3,953.6 1930.5,933.7 1932.8,917.4 1935.2,910.2 1937.3,922.9 1939.5,893.0 1942.4,933.7 1944.2,915.6 1946.4,915.6 1948.2,903.0 1950.0,888.5 1951.8,881.3 1954.5,877.6 1956.3,895.7 1959.0,923.8 1961.7,909.3 1964.1,917.4 1966.3,948.2 1967.0,920.7 1967.7,942.5 1968.4,917.4 1969.2,938.9 1970.0,920.0 1970.8,940.9 1971.6,914.7 1972.4,931.8 1973.1,909.3 1973.9,928.4 1974.6,913.0 1975.3,931.9 1977.5,917.4 1979.8,933.7 1982.2,965.4 1984.3,940.9 1986.5,965.4 1988.9,950.0 1991.6,944.6 1993.7,924.7 1996.1,910.2 1998.8,908.4 2001.0,922.9 2003.3,923.8 2005.7,910.2 2006.9,884.9 2008.2,868.6 2010.0,899.3 2012.4,875.8 2014.7,892.1 2016.9,899.3 2020.5,893.0 2023.2,917.4 2025.6,906.6 2028.1,875.8 2029.9,899.3 2032.3,870.4 2035.0,865.0 2037.1,851.4 2039.0,870.4 2040.4,895.7 2041.8,917.4 2044.0,893.0 2045.8,917.4 2048.5,924.7 2050.3,965.4 2053.1,965.4 2056.7,964.4 2059.4,951.8 2061.7,942.7 2063.0,917.4 2063.9,899.3 2065.7,933.7 2067.9,960.8 2070.2,997.0 2072.0,981.6 2074.4,965.4 2075.1,983.4 2075.8,969.7 2076.6,988.9 2077.3,950.6 2078.0,986.8 2078.7,948.2 2079.3,991.9 2079.9,960.6 2080.5,997.0 2081.3,967.0 2082.1,989.3 2082.9,964.4 2085.2,981.6 2087.4,957.2 2089.6,971.7 2091.4,989.8 2093.7,960.8 2096.1,958.1 2098.6,958.1 2101.0,997.0 2103.7,1011.5 2106.4,1020.5 2109.1,997.0 2111.3,1020.5 2113.6,1011.5 2116.0,1009.7 2118.2,989.8 2120.3,1006.0 2122.7,978.9 2125.0,965.4 2127.2,933.7 2129.4,946.4 2131.7,953.6 2133.5,940.0 2135.9,989.8 2138.0,971.7 2140.2,966.3 2142.6,933.7 2143.2,976.9 2143.8,942.3 2144.4,981.6 2145.2,953.5 2146.0,976.4 2146.7,948.2 2147.6,972.1 2148.4,957.1 2149.3,981.6 2150.1,961.1 2150.8,979.2 2151.6,957.2 2155.2,957.2 2157.0,964.4 2159.7,989.8 2160.5,970.3 2161.2,985.7 2161.9,966.3 2162.7,990.5 2163.5,970.5 2164.3,997.0 2165.1,963.8 2165.8,988.8 2166.6,957.2 2167.5,998.9 2168.3,965.2 2169.2,1006.0 2169.9,965.1 2170.7,999.8 2171.5,948.2 2172.3,965.7 2173.1,952.8 2173.9,971.7 2176.0,957.2 2178.7,978.9 2180.0,987.8 2182.2,984.8 2184.5,983.2 2186.8,983.2 2188.3,1003.0 2190.3,1015.0 2191.8,990.8 2193.6,987.8 2195.5,971.1 2197.4,987.8 2199.7,1004.5 2202.0,996.9 2204.3,1006.0 2206.5,1012.1 2208.1,1015.0"/>
<polyline class="c" stroke="#0000ff" stroke-width="2.50" points="226.3,1093.8 228.1,1061.3 230.8,1039.6 234.5,1032.3 236.3,1005.2 237.2,974.1 239.0,919.9 240.8,874.7 242.6,853.0 244.4,840.3 246.2,860.2 248.9,901.8 251.1,921.7 253.5,892.7 255.3,838.5 256.2,784.2 258.0,748.1 259.4,744.5 262.0,753.5 264.8,746.3 268.5,738.1 270.3,757.1 272.4,780.6 275.2,787.9 277.5,766.2 279.3,753.5 281.5,748.1 283.3,762.5 285.1,802.3 286.9,847.5 288.7,883.7 290.9,913.5 292.7,874.7 294.1,820.4 295.0,766.2 295.9,739.0 296.3,665.1 297.8,625.3 300.5,592.7 302.3,567.4 304.1,547.5 305.9,525.8 308.6,505.9 311.9,526.7 314.0,516.8 315.8,477.0 317.6,471.6 320.0,457.1 322.2,471.6 324.9,496.9 327.6,500.5 329.4,509.6 331.8,484.2 333.9,477.9 337.2,501.4 340.3,493.3 343.0,476.1 345.7,489.7 347.1,520.4 348.4,553.0 350.2,569.2 352.9,545.7 354.2,527.6 356.5,504.1 358.3,487.9 360.1,471.6 362.0,457.1 363.8,449.9 365.6,458.9 366.8,500.5 368.3,542.1 370.1,583.7 371.5,605.4 373.3,574.7 375.2,554.8 377.0,548.4 379.1,557.5 381.3,551.2 383.7,541.2 385.5,556.6 387.3,603.6 388.5,647.0 390.0,694.0 392.2,679.5 393.6,628.9 395.0,574.7 396.9,531.3 398.1,525.8 399.9,556.6 401.4,592.7 403.0,627.1 405.4,607.2 407.2,560.2 408.4,524.0 409.9,513.2 412.6,522.2 416.2,525.8 417.5,556.6 418.9,601.8 420.4,656.0 422.2,710.3 423.4,753.5 425.2,683.2 427.1,610.8 428.3,538.5 429.4,484.2 430.7,465.3 432.5,484.2 433.7,538.5 435.2,581.9 436.6,614.5 437.7,636.2 439.0,648.8 441.7,652.4 443.5,675.9 444.4,694.0 447.1,701.3 448.9,717.5 450.7,708.5 453.5,730.2 456.2,739.2 458.0,753.7 459.8,739.2 462.5,733.8 465.2,726.6 467.4,719.3 468.8,750.1 470.6,719.3 472.4,744.7 473.3,764.6 476.1,744.7 477.9,762.7 479.7,737.4 482.4,724.8 484.2,737.4 486.0,719.3 488.7,712.1 491.4,701.3 493.2,690.4 495.4,677.8 497.8,692.2 500.5,699.5 502.3,717.5 503.5,737.4 505.4,717.5 507.7,715.7 509.5,755.5 511.9,733.8 514.0,737.4 515.8,759.1 518.0,723.0 520.4,744.7 522.7,759.1 524.9,744.7 527.1,759.1 529.4,737.4 531.2,759.1 533.6,766.4 535.7,786.3 537.5,759.1 539.3,773.6 541.5,746.5 543.9,750.1 545.7,764.6 547.5,742.9 549.3,757.3 551.6,791.7 553.8,759.1 555.6,753.7 557.8,735.6 560.1,750.1 562.9,762.7 565.6,746.5 567.4,762.7 569.2,780.8 571.0,798.9 573.3,802.5 575.5,762.7 577.7,740.1 580.0,757.3 581.8,773.6 583.7,795.3 585.5,808.0 588.2,791.7 590.9,789.9 592.7,773.6 594.5,757.3 598.1,754.6 600.8,762.7 603.0,755.5 605.4,749.2 608.1,760.9 609.9,757.3 612.0,757.3 614.4,771.8 617.1,768.2 619.0,808.0 621.8,817.0 624.8,827.8 627.2,798.9 629.0,780.8 631.3,762.7 633.5,773.6 636.2,777.2 638.0,762.7 639.8,758.2 641.6,780.8 643.5,817.0 645.3,844.1 648.9,867.6 650.7,844.1 652.5,798.9 654.3,795.3 656.1,808.0 657.9,835.1 660.6,856.8 664.2,858.6 667.5,861.3 669.7,842.3 672.4,831.5 676.0,820.6 679.6,829.7 683.2,835.1 687.8,827.8 690.5,808.0 692.3,780.8 694.1,762.7 696.4,756.4 698.6,771.8 700.4,791.7 703.1,802.5 705.5,806.1 708.6,789.9 710.4,780.8 711.3,759.1 713.1,746.5 714.9,755.5 716.7,780.8 718.5,804.3 721.2,811.6 723.0,789.9 724.3,762.7 727.5,753.7 730.3,750.1 732.1,726.6 733.9,699.5 736.0,687.7 738.8,708.5 740.6,744.7 742.0,777.2 743.8,780.8 745.6,762.7 748.3,750.1 750.1,755.5 752.9,753.7 754.7,759.1 756.8,773.6 759.2,786.3 762.3,791.7 764.6,780.8 767.3,768.2 769.1,780.8 771.8,795.3 773.7,817.0 774.9,829.7 777.3,835.1 779.1,822.4 782.7,815.2 784.5,831.5 786.7,849.5 788.7,817.0 790.8,804.3 795.4,795.3 797.2,808.0 799.5,788.1 801.7,798.9 803.5,826.0 805.3,853.2 807.5,859.5 809.8,835.1 811.6,817.0 813.4,813.4 816.1,817.0 818.3,824.2 820.7,808.0 822.5,789.9 824.3,780.8 826.1,798.9 827.9,826.0 830.6,845.0 834.2,836.9 836.0,826.0 837.8,813.4 840.6,804.3 843.3,804.3 846.9,798.9 849.6,795.3 851.4,773.6 854.1,782.6 856.8,760.0 860.5,780.8 863.2,754.6 865.3,771.8 867.7,777.2 871.3,798.9 873.1,771.8 874.9,751.9 876.7,749.2 878.5,753.7 881.2,775.4 884.0,748.3 885.8,717.5 888.5,717.5 891.2,712.1 893.9,719.3 897.5,726.6 900.2,741.0 904.8,742.9 906.6,717.5 908.4,690.4 910.2,675.9 912.0,669.6 914.7,686.8 916.5,717.5 918.3,744.7 921.0,762.7 923.7,777.2 927.4,780.8 930.1,804.3 932.8,820.6 935.5,798.9 938.2,784.4 941.8,798.9 944.5,762.7 945.4,726.6 948.2,710.3 950.0,741.0 951.8,780.8 953.6,817.0 955.4,842.3 957.2,822.4 959.9,833.3 963.0,818.8 965.9,856.8 969.0,835.1 970.8,851.4 973.5,831.5 975.6,813.4 978.0,827.8 980.7,849.5 983.4,873.1 986.1,840.5 988.3,838.7 990.7,858.6 993.4,882.1 995.2,894.8 998.8,885.7 1001.5,853.2 1004.2,820.6 1006.9,831.5 1007.6,835.1 1010.5,855.0 1012.7,840.5 1015.4,827.8 1018.1,820.6 1020.3,804.3 1022.6,791.7 1025.0,789.9 1027.1,795.3 1029.8,784.4 1032.5,775.4 1035.3,773.6 1038.0,782.6 1040.7,798.9 1043.4,808.0 1046.1,795.3 1048.5,771.8 1050.6,741.0 1053.3,739.2 1055.2,744.7 1057.5,759.1 1059.7,764.6 1061.8,757.3 1064.2,742.9 1066.5,730.2 1068.7,723.0 1071.4,726.6 1074.1,731.1 1076.9,730.2 1079.6,733.8 1082.3,741.0 1085.0,744.7 1087.7,739.2 1090.4,753.7 1092.6,771.8 1094.9,788.1 1097.3,797.1 1099.8,789.9 1102.2,780.8 1104.9,779.0 1107.6,768.2 1110.3,744.7 1112.5,723.0 1114.3,701.3 1115.7,686.8 1117.9,683.5 1120.3,692.2 1122.1,715.7 1123.9,726.6 1125.7,723.0 1128.0,708.5 1129.3,724.8 1131.6,730.2 1133.5,753.7 1135.3,780.8 1137.1,793.5 1138.9,780.8 1141.0,786.3 1142.9,766.4 1145.6,759.1 1147.4,741.0 1149.2,757.3 1151.9,733.8 1153.3,744.7 1155.2,780.8 1157.3,770.0 1159.1,780.8 1161.3,793.5 1163.7,780.8 1166.0,771.8 1168.5,768.2 1170.0,744.7 1171.8,726.6 1173.6,723.0 1175.0,759.1 1176.9,780.8 1178.1,793.5 1179.9,779.0 1181.7,773.6 1183.5,751.9 1186.3,748.3 1188.1,741.0 1189.9,739.2 1191.7,721.2 1193.5,733.8 1195.3,730.2 1197.5,750.1 1199.8,744.7 1202.2,724.8 1204.3,742.9 1206.1,717.5 1207.6,690.4 1209.8,667.8 1211.6,690.4 1213.4,715.7 1214.8,741.0 1216.1,762.7 1217.9,784.4 1219.7,770.0 1222.1,770.0 1224.2,780.8 1226.9,791.7 1228.8,803.4 1230.6,780.8 1232.4,753.7 1234.2,726.6 1236.0,704.0 1238.3,723.0 1240.1,741.0 1242.0,759.1 1244.1,780.8 1245.6,795.3 1247.7,774.5 1249.9,789.9 1252.3,780.8 1254.6,797.1 1256.8,782.6 1259.5,782.6 1261.8,798.9 1263.1,811.6 1264.9,826.0 1266.7,842.3 1269.4,831.5 1271.2,820.6 1274.0,809.8 1276.3,803.4 1278.5,802.5 1280.3,817.0 1282.5,829.7 1284.8,822.4 1286.6,821.5 1289.0,804.3 1291.1,792.6 1293.3,804.3 1295.1,820.6 1297.5,826.0 1299.3,835.1 1301.6,848.6 1304.7,840.5 1307.4,838.7 1309.6,822.4 1311.4,808.0 1313.2,786.3 1315.6,762.7 1317.4,742.9 1319.2,724.8 1321.9,713.9 1324.6,710.3 1326.4,715.7 1328.2,735.6 1330.0,748.3 1332.4,759.1 1334.5,744.7 1336.7,735.6 1339.1,733.8 1341.4,732.0 1343.6,733.8 1345.8,737.4 1348.1,708.5 1349.9,723.0 1351.7,737.4 1354.4,741.0 1357.1,748.3 1359.0,717.5 1360.2,690.4 1361.7,680.5 1363.5,694.0 1365.3,712.1 1367.1,741.0 1368.9,760.0 1370.3,726.6 1371.6,703.1 1374.3,697.6 1377.0,694.0 1379.7,690.4 1382.5,686.8 1384.3,701.3 1385.5,717.5 1387.0,694.0 1388.8,681.4 1390.6,657.9 1392.4,653.3 1394.6,661.5 1396.9,697.6 1398.1,699.2 1399.9,675.7 1403.0,647.7 1405.4,668.5 1407.2,697.4 1409.0,713.7 1410.8,729.1 1412.6,688.4 1415.3,686.6 1416.8,699.2 1419.8,669.4 1422.5,686.6 1424.4,713.7 1426.5,737.2 1428.3,704.7 1430.1,668.5 1432.5,650.4 1434.3,629.6 1436.7,650.4 1438.5,677.5 1440.6,697.4 1442.4,722.7 1443.9,748.1 1446.1,713.7 1448.2,697.4 1450.6,708.3 1452.9,715.5 1455.1,733.6 1457.3,686.6 1459.6,647.7 1461.4,683.0 1463.2,645.0 1465.0,639.6 1466.9,679.3 1468.1,657.6 1470.5,635.0 1472.3,672.1 1473.5,690.2 1475.9,672.1 1477.7,693.8 1479.0,740.8 1481.3,726.4 1484.0,720.9 1485.8,704.7 1487.6,675.7 1489.1,661.3 1491.3,677.5 1493.4,690.2 1495.8,704.7 1497.6,715.5 1499.4,686.6 1501.2,651.3 1503.0,668.5 1504.8,701.0 1506.6,713.7 1507.9,730.9 1509.7,690.2 1512.1,710.1 1514.4,694.7 1516.6,710.1 1518.4,733.6 1520.6,749.9 1522.9,764.3 1524.7,777.0 1526.5,761.6 1528.9,758.9 1530.7,755.3 1532.9,733.6 1534.7,722.7 1537.9,717.3 1539.7,739.0 1541.9,730.0 1544.1,733.6 1545.9,744.4 1547.7,755.3 1550.0,748.1 1552.7,733.6 1555.5,729.1 1557.3,740.8 1560.0,751.7 1561.8,768.0 1563.6,791.5 1565.4,800.5 1567.2,787.8 1569.0,768.0 1570.8,757.1 1572.6,746.3 1574.8,735.4 1577.2,755.3 1579.5,768.0 1581.7,771.6 1583.9,786.0 1586.2,766.1 1588.0,777.0 1590.4,787.8 1592.5,798.7 1595.2,804.1 1597.6,791.5 1599.8,773.4 1601.9,760.7 1604.8,757.1 1606.6,773.4 1608.8,777.0 1611.0,749.9 1613.3,739.9 1616.0,742.6 1618.2,749.9 1620.6,764.3 1622.9,768.0 1624.7,771.6 1626.0,733.6 1627.8,706.5 1630.1,702.0 1632.3,717.3 1634.1,749.9 1636.3,763.4 1638.1,731.8 1640.5,695.6 1642.3,719.1 1644.6,751.7 1646.8,786.0 1648.6,804.1 1651.3,802.3 1654.0,810.5 1656.2,795.1 1658.0,768.0 1660.3,731.8 1662.7,717.3 1664.5,709.2 1666.7,715.5 1668.5,739.0 1670.7,758.9 1672.5,777.0 1674.3,755.3 1676.1,744.4 1677.9,739.0 1679.7,755.3 1682.0,764.3 1683.9,777.0 1686.6,786.0 1688.4,768.0 1690.5,744.4 1692.9,733.6 1695.2,744.4 1697.1,777.0 1698.9,795.1 1701.0,758.9 1703.2,753.5 1705.6,760.7 1707.9,751.7 1710.1,746.3 1711.9,733.6 1714.6,728.2 1716.9,704.7 1719.1,686.6 1721.3,673.0 1723.1,683.0 1724.9,699.2 1727.3,695.6 1729.1,713.7 1731.4,731.8 1733.6,749.9 1735.4,768.0 1737.2,731.8 1739.0,719.1 1741.2,735.4 1743.5,731.8 1745.9,722.7 1747.1,668.5 1749.0,619.7 1750.8,632.3 1752.6,664.9 1754.9,704.7 1757.1,661.3 1758.9,599.8 1761.1,588.0 1763.4,605.2 1765.2,646.8 1767.0,690.2 1768.3,704.7 1770.7,698.3 1772.5,719.1 1775.2,733.6 1777.9,713.7 1780.2,722.7 1782.4,717.3 1784.2,686.6 1786.4,675.7 1788.7,659.5 1790.5,675.8 1792.3,717.4 1794.5,733.7 1796.6,777.1 1799.0,764.4 1801.7,751.8 1804.4,748.2 1806.2,744.6 1808.6,764.4 1810.7,750.0 1813.5,745.5 1816.2,746.4 1818.9,742.7 1821.6,740.9 1823.4,739.1 1825.6,753.6 1827.9,737.3 1830.3,731.9 1832.4,706.6 1834.2,694.8 1836.4,706.6 1838.8,724.7 1840.6,737.3 1842.4,753.6 1844.2,771.7 1846.9,778.9 1849.6,793.4 1852.3,811.5 1855.0,816.9 1857.4,827.7 1859.6,815.1 1862.3,800.6 1864.1,784.3 1866.4,769.9 1868.6,764.4 1870.4,750.0 1871.9,715.6 1873.1,692.1 1875.3,681.3 1877.3,703.0 1879.1,724.7 1881.3,739.1 1883.1,742.7 1884.9,733.7 1886.7,760.8 1888.1,784.3 1889.9,793.4 1891.8,769.9 1893.6,748.2 1895.7,742.7 1897.5,760.8 1899.3,789.8 1902.1,806.9 1904.4,797.0 1907.5,791.6 1909.3,764.4 1911.1,733.7 1912.9,712.0 1914.2,703.9 1915.6,724.7 1917.1,751.8 1918.3,788.0 1920.1,806.9 1922.0,778.9 1923.8,762.6 1925.6,759.9 1927.9,775.3 1930.5,782.5 1932.8,797.0 1935.2,813.3 1937.0,825.0 1939.1,797.0 1940.9,784.3 1943.1,771.7 1945.5,762.6 1947.8,759.0 1949.1,742.7 1950.9,728.3 1952.7,742.7 1954.5,759.0 1956.3,760.8 1958.1,748.2 1959.9,715.6 1961.7,710.2 1963.5,719.2 1964.8,742.7 1967.2,769.9 1969.0,777.1 1971.7,784.3 1974.4,789.8 1976.7,810.6 1978.6,769.9 1980.4,751.8 1982.2,733.7 1984.3,715.6 1986.5,719.2 1988.3,739.1 1990.7,717.4 1993.4,712.0 1995.6,721.0 1997.0,742.7 1998.8,778.9 2001.0,795.2 2003.3,760.8 2005.1,724.7 2007.3,710.2 2009.3,724.7 2011.5,746.4 2014.2,748.2 2016.0,751.8 2017.8,759.0 2020.5,746.4 2023.2,748.2 2025.0,724.7 2026.8,688.5 2029.0,672.2 2031.4,688.5 2033.2,724.7 2034.6,760.8 2036.4,795.2 2038.6,760.8 2040.4,733.7 2043.1,735.5 2044.9,706.6 2046.7,679.5 2048.9,665.0 2050.3,688.5 2052.2,715.6 2054.5,760.8 2056.7,746.4 2058.5,740.9 2060.7,760.8 2063.0,778.0 2065.7,769.9 2067.5,742.7 2069.0,706.6 2070.8,666.8 2072.6,655.0 2074.8,670.4 2076.6,721.0 2078.7,777.1 2080.5,733.7 2082.4,719.2 2084.7,733.7 2087.4,742.7 2089.6,706.6 2091.4,666.8 2093.2,654.1 2095.0,679.5 2096.8,706.6 2099.2,728.3 2101.5,703.0 2103.7,693.9 2105.5,706.6 2107.7,722.9 2109.5,713.8 2111.8,731.9 2113.6,706.6 2116.0,692.1 2118.5,688.5 2120.3,715.6 2122.7,733.7 2124.5,743.7 2126.3,724.7 2129.0,735.5 2131.7,759.9 2133.5,733.7 2135.3,715.6 2137.1,699.3 2139.0,689.4 2141.3,710.2 2143.5,722.9 2146.2,723.8 2148.5,701.2 2150.7,715.6 2152.9,713.8 2154.7,692.1 2156.5,683.1 2158.3,697.5 2160.7,690.3 2162.5,729.2 2164.8,713.8 2167.0,697.5 2168.8,690.3 2171.5,715.6 2173.9,697.5 2175.7,670.4 2177.5,657.8 2181.5,664.5 2183.3,685.8 2185.3,707.0 2187.6,731.3 2189.4,704.0 2191.4,691.9 2193.3,674.4 2195.2,679.7 2196.7,704.0 2198.5,724.5 2200.0,707.0 2202.0,704.0 2203.5,691.9 2204.6,669.1 2205.8,646.3 2207.0,615.9 2208.1,588.6"/>
<polyline class="c" stroke="#ff00ff" stroke-width="2.40" points="226.3,787.9 229.0,778.8 230.5,748.1 231.2,729.3 233.6,766.2 237.2,777.0 239.0,748.1 240.3,726.6 242.6,715.7 245.3,708.5 248.0,719.3 249.8,683.2 252.5,656.0 255.3,638.0 258.9,639.8 260.7,647.0 263.4,610.8 266.1,623.5 268.8,619.9 272.4,634.3 274.2,656.0 276.1,681.4 277.9,652.4 280.6,645.2 282.4,670.5 285.1,683.2 287.8,697.6 291.4,694.0 294.5,683.2 296.9,701.2 300.5,719.3 301.4,753.5 302.8,778.8 304.1,748.1 305.0,731.8 306.8,744.5 308.6,760.7 310.4,765.3 313.1,751.7 314.9,740.8 317.6,730.0 319.5,748.1 321.3,764.4 324.0,769.8 326.7,773.4 330.3,780.6 333.0,787.9 335.7,786.1 338.4,775.2 341.2,770.7 343.9,778.8 346.6,784.2 349.3,778.8 351.1,789.7 353.8,778.8 355.6,813.2 358.3,789.7 361.0,787.9 362.9,796.9 364.7,778.8 367.4,789.7 369.2,802.3 371.0,811.4 373.7,795.1 375.5,818.6 378.2,816.8 380.0,804.1 381.8,809.6 384.6,827.6 386.4,798.7 389.1,805.9 390.9,798.7 394.5,789.7 396.3,773.4 398.1,764.4 399.9,787.9 402.6,771.6 404.4,778.8 406.3,749.9 409.0,746.3 411.7,749.9 413.5,775.2 415.3,787.9 418.0,778.8 421.8,771.8 423.6,762.7 424.2,789.3 424.8,772.2 425.4,798.9 426.3,761.9 427.2,794.2 428.1,757.3 428.8,784.1 429.3,762.6 429.9,789.9 432.7,788.1 434.5,798.9 437.2,771.8 441.7,770.0 443.5,791.7 446.2,804.3 448.9,813.4 451.6,826.0 452.6,807.3 453.5,820.7 454.4,804.3 455.3,826.6 456.2,806.1 457.1,835.1 458.0,783.3 458.9,826.1 459.8,778.1 460.7,827.2 461.6,780.9 462.5,833.3 465.2,817.0 467.9,804.3 470.3,829.7 472.4,849.5 474.2,826.0 476.4,836.9 477.2,804.6 478.0,827.7 478.8,797.1 479.6,825.9 480.3,808.0 481.1,835.1 481.9,806.6 482.6,833.3 483.3,804.3 484.0,819.7 484.7,808.4 485.5,826.0 486.3,797.3 487.0,821.6 487.8,795.3 488.6,817.1 489.4,799.8 490.2,824.2 492.3,811.6 494.5,826.0 496.9,804.3 498.7,795.3 501.4,835.1 502.1,819.7 502.8,832.8 503.5,813.4 505.4,826.0 506.2,776.3 506.9,815.3 507.7,764.6 508.3,790.6 508.9,768.3 509.5,798.9 510.4,785.3 511.3,795.9 512.2,780.8 514.9,786.3 518.6,771.8 521.3,764.6 523.1,786.3 526.7,788.1 532.1,787.2 534.8,771.8 537.2,779.0 539.3,757.3 541.2,747.4 543.0,777.2 545.7,762.7 548.4,748.3 551.1,789.9 552.9,760.9 555.6,773.6 558.3,757.3 561.0,762.7 563.8,773.6 566.5,784.4 569.2,773.6 571.0,755.5 573.3,798.9 575.5,762.7 578.2,773.6 580.9,780.8 583.7,757.3 586.4,768.2 589.1,780.8 591.8,773.6 594.5,766.4 597.2,770.0 599.9,757.3 602.6,771.8 606.3,777.2 609.0,811.6 611.7,786.3 614.4,789.9 617.1,791.7 619.8,800.7 622.5,780.8 625.2,789.9 627.6,779.0 629.8,764.6 632.5,782.6 635.2,780.8 637.9,798.9 640.6,791.7 644.2,818.8 646.9,773.6 649.7,780.8 651.8,771.8 654.2,795.3 656.5,771.8 659.1,788.1 661.4,773.6 663.3,735.6 664.6,729.3 667.0,753.7 669.7,775.4 672.4,771.8 675.1,778.1 677.8,753.7 679.6,730.2 681.4,741.0 684.1,723.9 685.9,762.7 688.1,723.9 690.5,737.4 692.3,732.0 695.0,744.7 698.6,746.5 702.2,740.1 704.0,757.3 708.6,757.3 710.4,770.0 712.7,741.0 714.9,730.2 716.7,744.7 718.5,730.2 719.1,748.4 719.7,731.5 720.3,753.7 721.2,726.6 722.1,748.1 723.0,723.9 723.8,749.5 724.6,726.7 725.4,753.7 728.4,741.0 730.3,755.5 733.0,766.4 736.6,779.0 740.2,777.2 742.9,753.7 745.3,770.0 747.4,730.2 750.1,744.7 753.8,724.8 755.6,753.7 757.4,726.6 759.2,706.7 761.0,698.6 763.7,723.0 766.4,705.8 769.1,710.3 771.8,717.5 774.6,729.3 778.5,724.8 780.9,737.4 783.6,750.1 786.3,757.3 789.0,770.0 789.9,749.4 790.8,764.2 791.7,748.3 792.4,764.1 792.9,751.2 793.5,770.0 794.6,742.9 795.6,763.0 796.6,739.2 797.4,768.0 798.2,744.0 799.0,770.0 800.0,749.5 801.0,765.1 802.0,747.4 805.3,770.0 807.1,757.3 809.3,729.3 811.6,779.0 814.3,764.6 818.0,766.4 820.7,771.8 823.0,755.5 825.2,782.6 827.0,770.0 829.2,771.8 831.5,795.3 834.2,780.8 836.9,782.6 839.7,763.7 841.8,786.3 844.2,804.3 846.9,788.1 849.6,797.1 852.3,806.1 855.0,813.4 858.6,811.6 860.5,798.9 863.2,809.8 865.9,789.9 867.7,780.8 869.5,755.5 871.3,786.3 873.1,795.3 875.8,780.8 878.5,784.4 882.2,800.7 884.9,788.1 887.0,771.8 889.4,791.7 891.2,819.7 893.9,780.8 896.1,793.5 898.4,771.8 900.2,777.2 902.9,759.1 905.7,750.1 908.4,724.8 910.2,753.7 912.9,741.0 915.6,730.2 917.4,744.7 920.1,750.1 922.8,740.1 925.6,737.4 927.9,726.6 930.1,723.9 932.8,732.0 935.5,733.8 938.2,744.7 940.0,762.7 942.7,739.2 945.4,730.2 948.2,735.6 950.9,730.2 954.5,730.2 957.2,751.9 959.9,755.5 962.6,737.4 965.3,730.2 967.1,744.7 967.8,722.2 968.4,739.0 969.0,715.7 969.6,750.7 970.2,725.7 970.8,753.7 971.4,714.9 972.0,744.4 972.6,706.7 973.2,733.6 973.8,710.9 974.4,744.7 975.3,726.8 976.2,741.6 977.1,724.8 978.9,730.2 979.8,714.1 980.7,726.1 981.6,708.5 982.2,724.3 982.8,712.5 983.4,726.6 984.2,699.3 985.0,721.1 985.8,692.2 986.5,713.2 987.2,698.4 987.9,717.5 988.9,696.5 989.8,713.8 990.7,692.2 993.4,708.5 995.2,694.0 997.0,729.3 997.9,698.8 998.8,727.2 999.7,692.2 1001.5,698.6 1003.3,666.9 1005.1,697.6 1006.9,704.9 1009.0,748.3 1010.8,708.5 1013.0,741.0 1014.8,708.5 1017.2,699.5 1019.5,708.5 1021.3,726.6 1023.1,744.7 1025.3,753.7 1028.0,750.1 1029.8,777.2 1032.2,750.1 1034.4,744.7 1037.1,739.2 1038.9,770.0 1041.2,730.2 1043.4,750.1 1045.2,753.7 1047.4,777.2 1049.2,750.1 1051.5,757.3 1054.2,770.0 1056.4,757.3 1058.8,753.7 1061.5,759.1 1064.2,757.3 1066.9,755.5 1069.6,778.1 1072.0,759.1 1074.1,739.2 1075.9,770.0 1078.1,744.7 1080.5,730.2 1082.8,778.1 1085.0,762.7 1086.8,737.4 1089.0,723.9 1091.3,746.5 1094.0,735.6 1096.7,723.9 1099.5,741.0 1102.2,753.7 1104.9,706.7 1107.1,755.5 1109.4,741.0 1111.2,730.2 1113.9,744.7 1116.6,739.2 1119.3,732.0 1122.1,729.3 1123.9,753.7 1126.2,741.0 1128.8,753.7 1131.1,726.6 1133.8,723.9 1136.0,741.0 1138.3,762.7 1140.7,753.7 1142.9,739.2 1144.7,741.0 1146.5,715.7 1148.6,730.2 1151.0,726.6 1153.3,708.5 1155.5,698.6 1157.7,728.4 1160.0,712.1 1161.8,706.7 1164.6,717.5 1166.7,730.2 1169.1,744.7 1170.9,717.5 1172.7,691.3 1173.3,706.1 1173.9,696.0 1174.5,712.1 1175.3,692.4 1176.1,708.0 1176.9,691.3 1177.6,729.6 1178.3,695.8 1179.0,739.2 1181.7,726.6 1183.5,708.5 1185.9,699.5 1189.0,692.2 1191.7,690.4 1195.3,690.4 1198.9,697.6 1201.1,683.2 1202.9,681.4 1205.2,701.3 1207.1,715.7 1208.9,690.4 1211.2,694.0 1213.4,697.6 1215.6,675.9 1217.9,690.4 1219.7,723.0 1222.1,674.1 1224.2,694.0 1226.9,706.7 1229.3,704.9 1231.5,690.4 1233.6,672.3 1236.0,657.9 1238.3,679.6 1240.5,697.6 1243.2,692.2 1245.6,675.9 1247.7,697.6 1249.9,675.9 1252.3,690.4 1254.6,675.9 1256.8,686.8 1259.0,675.9 1261.3,706.7 1263.7,675.9 1265.8,683.2 1267.6,667.8 1268.2,713.3 1268.8,684.1 1269.4,723.0 1270.1,700.4 1270.7,718.3 1271.2,697.6 1272.0,726.6 1272.7,701.1 1273.4,729.3 1274.2,698.6 1275.0,718.6 1275.8,692.2 1276.4,712.1 1277.0,696.1 1277.6,715.7 1280.3,713.9 1283.0,708.5 1285.7,715.7 1287.9,730.2 1290.2,706.7 1292.0,723.0 1294.8,717.5 1296.6,708.5 1298.7,698.6 1301.1,712.1 1302.9,706.7 1305.2,723.0 1307.4,715.7 1310.1,715.7 1312.8,717.5 1315.6,723.0 1318.3,724.8 1321.0,723.9 1323.3,730.2 1325.5,739.2 1326.2,715.7 1327.0,733.5 1327.7,708.5 1328.3,742.5 1328.9,710.4 1329.5,744.7 1330.3,710.6 1331.1,735.0 1331.8,706.7 1332.6,725.0 1333.4,711.4 1334.2,726.6 1334.8,708.6 1335.4,723.0 1336.0,706.7 1336.7,726.4 1337.4,710.4 1338.2,730.2 1340.9,724.8 1343.6,730.2 1345.8,723.0 1348.1,715.7 1350.8,719.3 1353.5,724.8 1356.2,726.6 1358.0,708.5 1360.2,706.7 1362.6,715.7 1365.3,739.2 1367.5,730.2 1369.3,715.7 1371.6,730.2 1374.0,744.7 1376.1,748.3 1378.8,741.0 1381.2,762.7 1383.4,741.0 1385.5,748.3 1387.3,770.0 1388.1,751.9 1388.9,763.2 1389.7,744.7 1390.5,759.9 1391.3,746.5 1392.0,762.7 1392.8,744.8 1393.5,759.0 1394.2,741.0 1394.8,778.2 1395.4,747.5 1396.0,788.1 1396.6,766.9 1397.2,782.9 1397.8,762.7 1397.9,784.2 1398.0,766.9 1398.1,787.8 1399.9,764.3 1402.3,754.4 1404.8,796.0 1407.2,773.4 1409.9,769.8 1412.6,782.4 1415.3,787.8 1417.5,795.1 1419.8,771.6 1421.6,739.9 1424.4,746.3 1427.1,748.1 1429.8,751.7 1432.0,764.3 1432.4,746.4 1432.9,761.6 1433.4,739.0 1434.0,757.9 1434.6,744.0 1435.2,764.3 1435.8,741.2 1436.4,758.0 1437.0,739.0 1437.8,761.8 1438.5,745.5 1439.2,764.3 1440.0,746.4 1440.8,758.2 1441.5,740.8 1444.2,746.3 1446.4,744.4 1448.2,730.0 1450.6,746.3 1452.9,771.6 1455.1,766.1 1457.3,764.3 1459.6,731.8 1462.0,716.4 1462.7,736.0 1463.4,718.0 1464.1,739.0 1464.9,722.5 1465.6,737.8 1466.3,715.5 1466.9,758.9 1467.5,721.0 1468.1,764.3 1468.9,745.9 1469.7,759.1 1470.5,739.0 1473.2,748.1 1475.4,751.7 1477.7,771.6 1480.1,740.8 1482.2,749.9 1484.0,755.3 1486.7,740.8 1489.1,730.0 1491.3,733.6 1494.0,764.3 1496.7,755.3 1499.4,754.4 1502.1,764.3 1505.7,739.0 1508.4,764.3 1511.5,748.1 1513.9,778.8 1516.6,779.7 1519.3,778.8 1521.6,771.6 1523.8,787.8 1526.5,789.7 1528.9,804.1 1531.0,818.6 1533.8,820.4 1536.1,796.9 1538.3,795.1 1541.0,788.8 1543.3,802.3 1545.5,795.1 1547.7,825.8 1550.0,820.4 1552.7,825.8 1555.5,820.4 1558.2,788.8 1560.9,827.6 1563.2,804.1 1566.3,802.3 1569.0,813.2 1571.7,819.5 1574.4,813.2 1578.1,812.3 1580.2,835.8 1582.6,813.2 1584.9,802.3 1587.1,813.2 1589.3,820.4 1591.6,796.9 1594.0,811.4 1596.1,796.9 1598.3,813.2 1600.1,804.1 1602.5,835.8 1604.8,820.4 1607.0,825.8 1609.7,787.8 1612.1,820.4 1615.1,827.6 1617.8,813.2 1620.6,802.3 1622.9,779.7 1625.1,787.8 1627.8,778.8 1629.6,764.3 1632.0,739.9 1634.1,755.3 1636.3,755.3 1638.1,748.1 1640.5,764.3 1642.3,771.6 1644.6,755.3 1646.8,764.3 1649.5,755.3 1651.8,764.3 1653.7,755.3 1655.8,764.3 1658.0,771.6 1660.3,751.7 1662.7,748.1 1664.9,758.9 1666.7,777.0 1668.5,764.3 1670.7,795.1 1673.0,755.3 1675.4,787.8 1677.5,791.5 1679.7,802.3 1682.0,786.0 1684.4,780.6 1686.6,787.8 1688.7,771.6 1691.1,769.8 1693.4,764.3 1695.6,755.3 1697.8,764.3 1699.6,795.1 1701.4,739.9 1703.7,786.0 1706.1,780.6 1708.3,786.0 1711.0,773.4 1713.7,768.0 1715.5,764.3 1717.7,755.3 1720.0,764.3 1722.4,771.6 1724.5,764.3 1727.3,762.5 1729.6,755.3 1731.8,764.3 1732.7,739.9 1734.5,748.1 1736.8,771.6 1739.0,755.3 1741.2,777.0 1743.5,773.4 1745.9,787.8 1748.0,796.9 1750.8,796.0 1752.6,795.1 1754.4,813.2 1756.2,820.4 1758.5,825.8 1760.7,804.1 1762.5,827.6 1764.7,843.9 1767.0,842.1 1768.3,852.0 1770.7,813.2 1772.5,804.1 1774.3,827.6 1776.6,843.9 1778.8,845.7 1781.5,842.1 1783.3,845.7 1785.1,820.4 1786.9,851.1 1788.7,834.9 1790.5,851.2 1792.3,862.1 1794.5,847.6 1796.3,867.5 1798.1,863.9 1800.8,875.7 1802.6,851.2 1804.4,836.8 1807.1,827.7 1807.9,846.2 1808.6,829.3 1809.3,851.2 1809.9,833.9 1810.5,847.0 1811.1,827.7 1811.9,845.2 1812.7,830.5 1813.5,851.2 1815.3,833.2 1818.0,819.6 1821.2,819.6 1823.4,836.8 1826.1,836.8 1827.9,847.6 1830.3,858.5 1832.4,862.1 1834.2,820.5 1836.4,847.6 1838.8,851.2 1841.5,849.4 1844.2,862.1 1846.9,840.4 1849.6,835.9 1852.3,836.8 1854.1,851.2 1856.3,849.4 1858.7,862.1 1860.5,836.8 1862.8,851.2 1863.4,830.6 1864.0,847.4 1864.6,827.7 1866.8,827.7 1867.5,854.6 1868.3,833.5 1869.0,862.1 1871.3,840.4 1873.7,847.6 1875.8,867.5 1878.6,851.2 1880.9,844.0 1884.0,844.0 1887.1,844.0 1889.4,862.1 1892.1,867.5 1894.3,869.3 1895.7,844.0 1897.9,876.6 1900.3,867.5 1903.0,861.2 1904.8,862.1 1906.6,881.1 1909.3,867.5 1911.6,872.9 1913.8,862.1 1916.0,872.9 1917.8,827.7 1919.6,862.1 1922.0,851.2 1924.3,862.1 1926.5,847.6 1928.6,862.1 1929.4,837.8 1930.2,857.1 1931.0,827.7 1931.8,855.4 1932.6,831.1 1933.3,862.1 1934.1,843.7 1934.8,855.1 1935.5,836.8 1936.3,862.2 1937.0,839.9 1937.7,867.5 1938.5,847.5 1939.3,861.5 1940.0,844.0 1940.7,856.8 1941.2,845.0 1941.8,862.1 1942.6,848.8 1943.4,857.9 1944.2,844.0 1946.0,869.3 1947.3,899.2 1949.1,867.5 1951.4,876.6 1953.2,851.2 1955.4,876.6 1958.1,883.8 1960.8,878.4 1962.6,867.5 1964.4,851.2 1966.3,836.8 1969.0,840.4 1971.3,835.9 1972.1,855.3 1972.8,841.8 1973.5,862.1 1974.0,832.2 1974.5,855.7 1974.9,827.7 1975.7,853.7 1976.4,837.8 1977.1,862.1 1979.3,847.6 1981.6,842.2 1984.0,827.7 1986.5,840.4 1988.9,844.0 1991.2,842.2 1993.0,820.5 1994.8,835.9 1996.6,804.2 1998.8,820.5 2000.6,797.0 2004.2,827.7 2006.9,815.1 2009.3,795.2 2010.0,824.5 2010.7,801.0 2011.5,827.7 2012.2,803.1 2012.9,820.8 2013.6,795.2 2014.4,821.2 2015.2,801.5 2016.0,827.7 2018.7,820.5 2021.4,818.7 2023.8,795.2 2025.9,804.2 2028.1,827.7 2030.5,809.7 2032.3,800.6 2034.6,788.0 2036.8,813.3 2039.0,797.0 2041.3,800.6 2043.7,804.2 2045.8,820.5 2048.0,807.8 2050.3,797.0 2052.7,795.2 2054.5,788.0 2056.7,811.5 2059.4,804.2 2061.7,818.7 2063.9,829.5 2065.7,835.0 2067.5,778.9 2069.3,820.5 2071.5,804.2 2073.9,818.7 2076.6,820.5 2078.7,827.7 2081.1,813.3 2083.8,804.2 2086.5,811.5 2088.9,815.1 2091.0,829.5 2094.3,844.0 2096.5,829.5 2099.2,824.1 2101.9,820.5 2104.6,815.1 2106.9,803.3 2109.1,818.7 2112.4,820.5 2114.5,820.5 2116.7,827.7 2117.2,802.3 2117.7,821.0 2118.2,795.2 2118.9,813.3 2119.6,798.3 2120.3,820.5 2121.1,789.8 2121.9,811.8 2122.7,788.0 2125.0,818.7 2127.2,820.5 2129.4,804.2 2131.7,778.9 2134.1,811.5 2136.2,827.7 2138.4,811.5 2140.8,804.2 2142.6,778.9 2144.9,813.3 2147.1,804.2 2149.3,804.2 2151.6,778.9 2153.4,795.2 2155.8,778.9 2157.9,788.0 2160.1,797.0 2162.5,804.2 2164.8,813.3 2167.0,770.8 2168.8,788.0 2171.0,788.0 2173.3,795.2 2175.7,804.2 2177.8,811.5 2180.0,798.0 2182.2,778.2 2184.2,813.2 2186.0,804.0 2188.3,799.5 2190.3,788.9 2191.8,799.5 2193.6,813.2 2195.5,787.3 2197.4,798.0 2199.7,812.4 2202.0,804.0 2204.3,810.1 2206.5,812.4 2208.1,813.2"/>
<text class="tick" transform="translate(225.20,1587.50) scale(1.0000,1.0450)" text-anchor="middle">0</text>
<text class="tick" transform="translate(500.59,1587.50) scale(1.0000,1.0450)" text-anchor="middle">1000</text>
<text class="tick" transform="translate(775.98,1587.50) scale(1.0000,1.0450)" text-anchor="middle">2000</text>
<text class="tick" transform="translate(1051.37,1587.50) scale(1.0000,1.0450)" text-anchor="middle">3000</text>
<text class="tick" transform="translate(1326.76,1587.50) scale(1.0000,1.0450)" text-anchor="middle">4000</text>
<text class="tick" transform="translate(1602.14,1587.50) scale(1.0000,1.0450)" text-anchor="middle">5000</text>
<text class="tick" transform="translate(1877.53,1587.50) scale(1.0000,1.0450)" text-anchor="middle">6000</text>
<text class="tick" transform="translate(2152.92,1587.50) scale(1.0000,1.0450)" text-anchor="middle">7000</text>
<text class="tick" transform="translate(193.30,1523.90) scale(1.0000,1.0450)" text-anchor="end">0.4</text>
<text class="tick" transform="translate(193.30,1039.30) scale(1.0000,1.0450)" text-anchor="end">0.6</text>
<text class="tick" transform="translate(193.30,554.70) scale(1.0000,1.0450)" text-anchor="end">0.8</text>
<text class="tick" transform="translate(193.30,70.10) scale(1.0000,1.0450)" text-anchor="end">1.0</text>
<rect x="432.80" y="1581.80" width="30.6" height="7.2" fill="#fff"/>
<rect x="445.60" y="1580.80" width="5.64" height="7.20" fill="#000"/>
<rect x="107.73" y="64.40" width="30.6" height="7.2" fill="#fff"/>
<rect x="120.53" y="63.40" width="5.64" height="7.20" fill="#000"/>
<text class="ttl" transform="translate(1217.00,1667.60) scale(0.9940,1.0300)" text-anchor="middle">Sliding time/s</text>
<text class="ttl" transform="translate(76.90,747.00) rotate(-90) scale(0.9940,1.0300)" text-anchor="middle">Friction coefficient</text>
<line x1="1648.40" y1="102.70" x2="1825.40" y2="102.70" stroke="#000000" stroke-width="3.00"/>
<text class="leg" transform="translate(1842.30,129.30) scale(1.0000,1.0400)" text-anchor="start">Substrate</text>
<line x1="1648.40" y1="187.10" x2="1825.40" y2="187.10" stroke="#ff0000" stroke-width="3.00"/>
<text class="leg" transform="translate(1842.30,212.10) scale(1.0000,1.0400)" text-anchor="start">Coating I</text>
<line x1="1648.40" y1="277.80" x2="1825.40" y2="277.80" stroke="#0000ff" stroke-width="3.00"/>
<text class="leg" transform="translate(1842.30,302.60) scale(1.0000,1.0400)" text-anchor="start">Coating II</text>
<line x1="1650.50" y1="363.50" x2="1827.50" y2="363.50" stroke="#ff00ff" stroke-width="3.00"/>
<text class="leg" transform="translate(1842.30,390.30) scale(1.0000,1.0400)" text-anchor="start">Coating III</text>
</g>
</svg>
</body></html>
